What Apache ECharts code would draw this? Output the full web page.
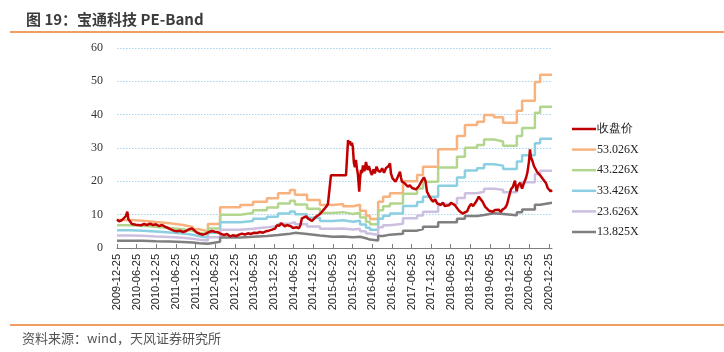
<!DOCTYPE html>
<html>
<head>
<meta charset="utf-8">
<script src="https://cdn.jsdelivr.net/npm/echarts@6/dist/echarts.min.js"></script>
<style>
  html, body { margin: 0; padding: 0; background: #fff; }
  #chart { width: 724px; height: 352px; }
</style>
</head>
<body>
<div id="chart"></div>
<script>
// x轴刻度（每半年）
const xLabels = [
  '2009-12-25', '2010-06-25', '2010-12-25', '2011-06-25', '2011-12-25', '2012-06-25',
  '2012-12-25', '2013-06-25', '2013-12-25', '2014-06-25', '2014-12-25', '2015-06-25',
  '2015-12-25', '2016-06-25', '2016-12-25', '2017-06-25', '2017-12-25', '2018-06-25',
  '2018-12-25', '2019-06-25', '2019-12-25', '2020-06-25', '2020-12-25'
];

const seriesNames = ['收盘价', '53.026X', '43.226X', '33.426X', '23.626X', '13.825X'];
const colores = ['#C00000', '#F7B27E', '#B3D68E', '#8CCFE2', '#CDBFE0', '#7F7F7F'];

// 收盘价
const priceDates = [
  '2009-12-25','2010-01-13','2010-01-22','2010-02-10','2010-02-28','2010-03-18','2010-03-31','2010-04-10','2010-04-25','2010-05-13','2010-05-31','2010-06-19','2010-07-07','2010-08-04','2010-09-02','2010-10-01','2010-10-28','2010-11-25','2010-12-22',
  '2011-01-19','2011-02-18','2011-03-16','2011-04-13','2011-05-10','2011-06-07','2011-07-04','2011-08-02','2011-08-31','2011-09-28','2011-10-25','2011-11-22','2011-12-10',
  '2012-01-07','2012-02-06','2012-03-04','2012-03-31','2012-04-28','2012-05-25','2012-06-22','2012-07-22','2012-08-19','2012-09-16','2012-10-13','2012-11-10','2012-12-07',
  '2013-01-07','2013-02-03','2013-03-01','2013-03-28','2013-04-25','2013-05-25','2013-06-22','2013-07-19','2013-08-16','2013-09-13','2013-10-10','2013-11-07','2013-12-07',
  '2014-01-03','2014-01-22','2014-02-10','2014-02-28','2014-03-16','2014-04-03','2014-04-25','2014-05-13','2014-05-31','2014-06-19','2014-07-07','2014-07-25','2014-08-13','2014-08-28','2014-09-10','2014-09-28','2014-10-19','2014-11-07','2014-11-25','2014-12-13','2014-12-31',
  '2015-01-19','2015-02-06','2015-02-25','2015-03-13','2015-04-03','2015-04-22','2015-05-10','2015-05-22','2015-06-07','2015-10-25','2015-11-03','2015-11-13','2015-11-22','2015-12-01','2015-12-10','2015-12-19','2015-12-28',
  '2016-01-06','2016-01-16','2016-01-25','2016-02-04','2016-02-13','2016-02-25','2016-03-04','2016-03-13','2016-03-22','2016-03-31','2016-04-13','2016-04-28','2016-05-13','2016-05-25','2016-06-10','2016-06-22','2016-07-07','2016-07-19','2016-08-04','2016-08-19','2016-09-07','2016-09-25','2016-10-13','2016-10-31','2016-11-19','2016-12-07','2016-12-16','2016-12-31',
  '2017-01-16','2017-01-28','2017-02-13','2017-02-25','2017-03-10','2017-03-19','2017-03-28','2017-04-16','2017-05-04','2017-05-22','2017-06-10','2017-07-01','2017-07-19','2017-08-06','2017-08-19','2017-09-03','2017-09-22','2017-10-07','2017-10-19','2017-11-03','2017-11-16','2017-12-04','2017-12-25',
  '2018-01-12','2018-01-31','2018-02-19','2018-03-07','2018-03-25','2018-04-13','2018-05-01','2018-05-19','2018-06-10','2018-06-28','2018-07-16','2018-08-03','2018-08-22','2018-09-10','2018-09-28','2018-10-16','2018-11-04','2018-11-25','2018-12-13','2018-12-31',
  '2019-01-19','2019-02-06','2019-02-25','2019-03-13','2019-03-31','2019-04-19','2019-05-10','2019-05-28','2019-06-16','2019-07-04','2019-07-22','2019-08-10','2019-08-28','2019-09-15','2019-10-04','2019-10-22','2019-11-12','2019-11-30','2019-12-19',
  '2020-01-06','2020-01-25','2020-02-12','2020-02-28','2020-03-10','2020-03-31','2020-04-19','2020-05-07','2020-05-25','2020-06-07','2020-06-22','2020-07-01','2020-07-10','2020-07-25','2020-08-07','2020-08-22','2020-09-06','2020-09-19','2020-10-04','2020-10-19','2020-10-31','2020-11-15','2020-11-28','2020-12-13','2020-12-25','2021-01-09','2021-01-22'
];
const priceValues = [
  8.6, 8.0, 7.6, 8.4, 8.8, 9.6, 10.9, 8.6, 8.0, 7.2, 7.6, 7.0, 7.4, 6.8, 7.2, 6.9, 7.3, 6.9, 7.1,
  6.6, 6.9, 6.4, 6.0, 5.6, 5.2, 5.0, 5.2, 4.8, 5.1, 5.6, 5.9, 5.4,
  4.6, 4.2, 4.0, 4.3, 4.8, 5.1, 4.9, 4.7, 4.2, 3.9, 4.2, 3.5, 3.8,
  3.6, 4.0, 4.3, 4.0, 4.4, 4.2, 4.6, 4.5, 4.8, 4.6, 5.0, 5.2, 5.5,
  5.8, 6.9, 6.6, 7.4, 6.8, 6.5, 6.9, 6.3, 6.5, 6.0, 5.8, 6.2, 5.9, 7.0, 8.9, 9.2, 9.5, 8.8, 8.3, 8.1, 8.6,
  9.4, 9.0, 10.2, 10.6, 11.6, 12.3, 13.2, 13.6, 21.8, 21.8, 22.0, 32.4, 31.2, 32.0, 30.8, 31.6, 30.2,
  25.6, 24.2, 26.4, 23.8, 22.0, 16.9, 21.0, 23.4, 22.5, 24.8, 23.0, 25.8, 23.4, 24.6, 22.8, 21.9, 23.6, 22.4, 24.4, 23.2, 22.8, 23.9, 22.6, 24.0, 24.4, 25.4, 22.4, 20.9,
  20.3, 19.9, 21.0, 21.4, 22.9, 21.2, 19.9, 19.6, 19.0, 18.4, 18.8, 18.0, 18.6, 17.6, 17.2, 18.6, 19.8, 20.4, 21.2, 20.0, 16.9, 15.8, 14.6,
  13.9, 14.6, 13.4, 14.0, 12.9, 13.6, 12.6, 13.2, 12.8, 13.6, 13.9, 12.8, 12.0, 11.2, 10.6, 10.3, 10.7, 11.0, 12.4, 13.2,
  12.6, 13.4, 14.4, 15.4, 14.8, 13.8, 12.4, 11.8, 11.2, 11.6, 10.9, 11.4, 10.9, 11.5, 10.8, 11.6, 12.0, 13.0, 15.4,
  17.6, 18.4, 20.2, 17.0, 18.6, 19.6, 17.8, 19.6, 21.0, 22.6, 26.0, 29.6, 27.2, 26.0, 24.6, 25.2, 22.8, 23.2, 21.8, 22.2, 20.6, 21.0, 19.4, 18.0, 18.6, 17.0, 17.4
];

// PE-Band 台阶变化日期
const bandDates = [
  '2009-12-25','2010-04-25','2010-08-22','2010-12-22','2011-05-01','2011-08-31','2011-12-01','2012-01-28','2012-04-19','2012-08-10',
  '2013-02-13','2013-06-12','2013-10-19','2014-01-31','2014-05-22','2014-07-07','2014-10-28','2015-02-25','2015-06-25','2015-09-28',
  '2015-12-28','2016-03-04','2016-04-28','2016-06-04','2016-08-19','2016-10-04','2016-12-07','2017-04-07','2017-08-16','2017-10-10',
  '2018-02-28','2018-08-22','2018-11-04','2019-02-25','2019-05-01','2019-08-01','2019-10-25','2020-03-01','2020-04-19','2020-08-16',
  '2020-10-04','2021-01-22'
];
const band53 = [8.4, 8.2, 7.8, 7.4, 6.9, 6.3, 5.6, 5.0, 7.2, 12.2, 12.9, 13.9, 14.9, 16.4, 17.4, 16.0, 14.4, 12.9, 13.2, 12.5, 13.0, 11.2, 9.7, 8.7, 13.9, 15.4, 16.4, 20.0, 21.9, 24.4, 29.6, 33.6, 36.9, 37.9, 39.9, 39.2, 37.6, 41.2, 44.2, 49.8, 52.0, 52.0];
const band43 = [6.85, 6.68, 6.36, 6.03, 5.62, 5.14, 4.57, 4.08, 5.87, 9.95, 10.52, 11.33, 12.15, 13.37, 14.18, 13.04, 11.74, 10.52, 10.76, 10.19, 10.60, 9.13, 7.91, 7.09, 11.33, 12.55, 13.37, 16.30, 17.85, 19.89, 24.13, 27.39, 30.08, 30.90, 32.53, 31.96, 30.65, 33.59, 36.03, 40.60, 42.39, 42.39];
const band33 = [5.30, 5.17, 4.92, 4.66, 4.35, 3.97, 3.53, 3.15, 4.54, 7.69, 8.13, 8.76, 9.39, 10.34, 10.97, 10.09, 9.08, 8.13, 8.32, 7.88, 8.20, 7.06, 6.11, 5.48, 8.76, 9.71, 10.34, 12.61, 13.81, 15.38, 18.66, 21.18, 23.26, 23.89, 25.15, 24.71, 23.70, 25.97, 27.86, 31.39, 32.78, 32.78];
const band23 = [3.74, 3.65, 3.47, 3.30, 3.07, 2.81, 2.49, 2.23, 3.21, 5.44, 5.75, 6.19, 6.64, 7.31, 7.75, 7.13, 6.42, 5.75, 5.88, 5.57, 5.79, 4.99, 4.32, 3.88, 6.19, 6.86, 7.31, 8.91, 9.76, 10.87, 13.19, 14.97, 16.44, 16.88, 17.78, 17.46, 16.75, 18.35, 19.69, 22.19, 23.17, 23.17];
const band13 = [2.19, 2.14, 2.03, 1.93, 1.80, 1.64, 1.46, 1.30, 1.88, 3.18, 3.36, 3.62, 3.88, 4.28, 4.54, 4.17, 3.75, 3.36, 3.44, 3.26, 3.39, 2.92, 2.53, 2.27, 3.62, 4.01, 4.28, 5.21, 5.71, 6.36, 7.72, 8.76, 9.62, 9.88, 10.40, 10.22, 9.80, 10.74, 11.52, 12.98, 13.56, 13.56];

const bands = [band53, band43, band33, band23, band13];

const toTime = (s) => echarts.number.parseDate(s).getTime();
const pad = (n) => (n < 10 ? '0' : '') + n;
const fmtDate = (v) => {
  const d = new Date(v);
  return d.getFullYear() + '-' + pad(d.getMonth() + 1) + '-' + pad(d.getDate());
};

const chart = echarts.init(document.getElementById('chart'), null, { renderer: 'canvas' });

const bandSeries = bands.map((b, i) => ({
  name: seriesNames[i + 1],
  type: 'line',
  step: 'end',
  symbol: 'none',
  z: 2,
  lineStyle: { width: 2.5, color: colores[i + 1] },
  itemStyle: { color: colores[i + 1] },
  data: bandDates.map((d, k) => [toTime(d), b[k]])
}));

const tickTimes = xLabels.map(toTime);

const option = {
  animation: false,
  backgroundColor: '#fff',
  title: {
    text: '图 19：宝通科技 PE-Band',
    left: 21,
    top: 7,
    textStyle: { fontFamily: 'Noto Sans CJK SC', fontSize: 15, fontWeight: 'bold', color: '#3b3b3b' }
  },
  graphic: [
    { type: 'line', shape: { x1: 10, y1: 32, x2: 724, y2: 32 }, style: { stroke: '#ED7D31', lineWidth: 1.5 } },
    { type: 'line', shape: { x1: 10, y1: 325, x2: 724, y2: 325 }, style: { stroke: '#ED7D31', lineWidth: 1.5 } },
    {
      type: 'text', left: 22, top: 332,
      style: { text: '资料来源：wind，天风证券研究所', font: '13px "Noto Sans CJK SC"', fill: '#555' }
    }
  ],
  legend: {
    orient: 'vertical',
    left: 567,
    top: 117,
    icon: 'rect',
    itemWidth: 24,
    itemHeight: 2.5,
    itemGap: 6.6,
    textStyle: { fontFamily: 'Liberation Serif', fontSize: 12, color: '#222', padding: [0, 0, 0, -4], lineHeight: 14 },
    data: seriesNames
  },
  grid: { left: 117, right: 172, top: 48, bottom: 104, containLabel: false, outerBoundsMode: 'none' },
  xAxis: {
    type: 'value',
    min: toTime('2009-12-25'),
    max: toTime('2021-01-22'),
    axisLine: { lineStyle: { color: '#7f7f7f', width: 1 } },
    axisTick: { show: true, inside: true, length: 4, lineStyle: { color: '#7f7f7f' }, customValues: tickTimes },
    axisLabel: {
      rotate: 90,
      margin: 6,
      fontFamily: 'Liberation Sans',
      fontSize: 11,
      color: '#222',
      hideOverlap: false,
      showMinLabel: true,
      showMaxLabel: true,
      customValues: tickTimes,
      formatter: (v) => fmtDate(v)
    },
    splitLine: { show: false }
  },
  yAxis: {
    type: 'value',
    min: 0,
    max: 60,
    interval: 10,
    axisLine: { show: false },
    axisTick: { show: false },
    axisLabel: { margin: 14, fontFamily: 'Liberation Serif', fontSize: 12, color: '#333' },
    splitLine: { show: true, lineStyle: { color: '#A9D3EE', type: [1.5, 1.5], width: 1 } }
  },
  series: [
    {
      name: seriesNames[0],
      type: 'line',
      symbol: 'none',
      z: 5,
      lineStyle: { width: 2.5, color: colores[0] },
      itemStyle: { color: colores[0] },
      data: priceDates.map((d, k) => [toTime(d), priceValues[k]])
    },
    ...bandSeries
  ]
};

chart.setOption(option);
</script>
</body>
</html>
